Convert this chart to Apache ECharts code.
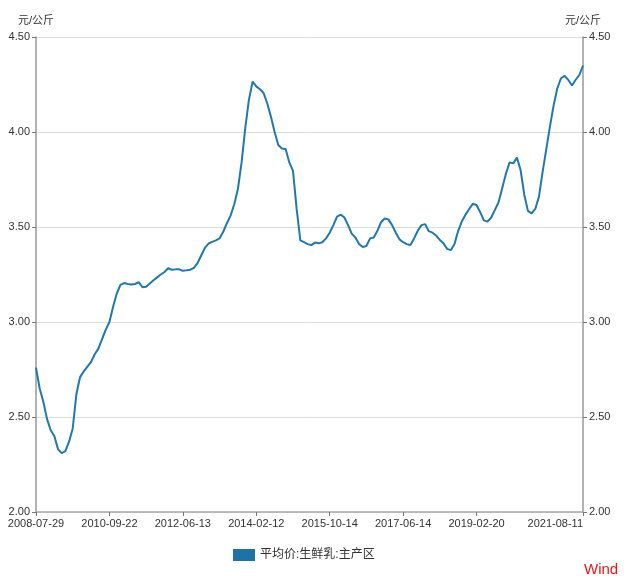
<!DOCTYPE html>
<html><head><meta charset="utf-8">
<script src="https://cdn.jsdelivr.net/npm/echarts@6/dist/echarts.min.js"></script>
<style>html,body{margin:0;padding:0;background:#fff}#c{width:640px;height:588px}</style>
</head><body><div id="c"></div>
<script>
const seriesName = '平均价:生鲜乳:主产区';
const unitName = '元/公斤';
const tickIndex = [0, 20, 40, 60, 80, 100, 120, 149];
const tickLabels = ['2008-07-29','2010-09-22','2012-06-13','2014-02-12','2015-10-14','2017-06-14','2019-02-20','2021-08-11'];
const yTicks = [2.0, 2.5, 3.0, 3.5, 4.0, 4.5];
const values = [
2.76,2.65,2.58,2.49,2.43,2.40,2.33,2.31,2.32,2.37,
2.44,2.62,2.71,2.74,2.765,2.79,2.83,2.86,2.91,2.96,
3.00,3.08,3.15,3.195,3.205,3.20,3.197,3.20,3.21,3.183,
3.185,3.203,3.22,3.235,3.25,3.263,3.283,3.275,3.277,3.277,
3.27,3.272,3.275,3.285,3.31,3.35,3.39,3.413,3.422,3.43,
3.44,3.475,3.52,3.56,3.62,3.70,3.84,4.02,4.17,4.265,
4.24,4.225,4.205,4.15,4.08,4.00,3.932,3.913,3.91,3.84,
3.795,3.595,3.43,3.42,3.41,3.405,3.418,3.414,3.42,3.44,
3.47,3.51,3.555,3.565,3.55,3.51,3.465,3.445,3.41,3.395,
3.40,3.44,3.445,3.48,3.525,3.545,3.54,3.51,3.47,3.435,
3.42,3.41,3.405,3.44,3.48,3.51,3.515,3.478,3.47,3.455,
3.432,3.414,3.385,3.378,3.41,3.48,3.53,3.565,3.595,3.622,
3.616,3.578,3.535,3.528,3.55,3.59,3.63,3.705,3.78,3.84,
3.835,3.865,3.80,3.67,3.585,3.572,3.595,3.66,3.79,3.91,
4.03,4.14,4.23,4.283,4.295,4.274,4.245,4.275,4.30,4.35
];
const categories = values.map((v, i) => String(i));
const labelOf = {};
tickIndex.forEach((idx, k) => { labelOf[idx] = tickLabels[k]; });

const font = '"Liberation Sans", Arial, "Noto Sans CJK SC", sans-serif';
const chart = echarts.init(document.getElementById('c'));
const yBase = {
  type: 'value', min: yTicks[0], max: yTicks[yTicks.length - 1], interval: 0.5,
  name: unitName, nameLocation: 'end', nameGap: 11,
  nameTextStyle: { color: '#333', fontSize: 11, fontFamily: font },
  axisLine: { show: true, lineStyle: { color: '#999', width: 1.5 } },
  axisTick: { show: true, length: 4, lineStyle: { color: '#777' } },
  axisLabel: { color: '#333', fontSize: 11, fontFamily: font, margin: 6, formatter: v => v.toFixed(2) }
};
chart.setOption({
  animation: false,
  grid: { left: 36, right: 57, top: 37, bottom: 76 },
  xAxis: {
    type: 'category', data: categories, boundaryGap: false,
    axisLine: { lineStyle: { color: '#aaa', width: 1.5 } },
    axisTick: { show: true, length: 4, interval: i => labelOf[i] !== undefined, lineStyle: { color: '#777' } },
    axisLabel: { interval: i => labelOf[i] !== undefined, formatter: (v, i) => labelOf[i] || '',
      color: '#333', fontSize: 11, fontFamily: font, margin: 6, showMaxLabel: true,
      alignMaxLabel: 'right' },
    splitLine: { show: false }
  },
  yAxis: [
    Object.assign({}, yBase, { position: 'left', splitLine: { show: true, lineStyle: { color: '#ddd', width: 1 } } }),
    Object.assign({}, yBase, { position: 'right', splitLine: { show: false } })
  ],
  legend: {
    left: 228, top: 544, icon: 'rect', itemWidth: 22, itemHeight: 12, itemGap: 10,
    textStyle: { color: '#333', fontSize: 12, fontFamily: font },
    data: [seriesName]
  },
  graphic: [{ type: 'text', left: 584, top: 562, style: { text: 'Wind', fill: '#e8161b', fontSize: 15, fontFamily: font } }],
  series: [{
    name: seriesName, type: 'line', yAxisIndex: 0, data: values,
    showSymbol: false, symbol: 'none',
    lineStyle: { color: '#2378ab', width: 2 }, itemStyle: { color: '#1f72a6' }
  }]
});
</script></body></html>
